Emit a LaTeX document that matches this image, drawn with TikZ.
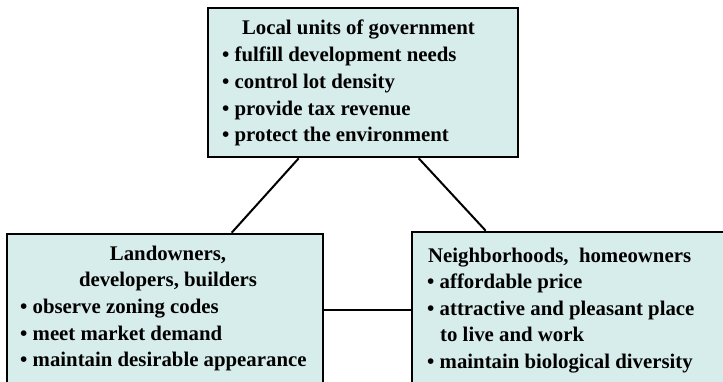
\documentclass[tikz,border=0pt]{standalone}
\usepackage{fontspec}
\setmainfont{Liberation Serif}
\definecolor{boxfill}{RGB}{214,237,235}
\tikzset{
  panel/.style={draw=black, line width=2.6pt, fill=boxfill, rectangle, inner sep=0pt},
  txt/.style={font=\fontsize{20.8}{26.8}\selectfont\bfseries, inner sep=0pt, anchor=base west},
  ttl/.style={font=\fontsize{20.8}{26.8}\selectfont\bfseries, inner sep=0pt, anchor=base},
  link/.style={draw=black, line width=2pt}
}
\begin{document}
\begin{tikzpicture}[x=1pt,y=-1pt]
\clip (0,0) rectangle (723,382);
% boxes
\node[panel, minimum width=310pt, minimum height=149pt] (top) at (363,82.5) {};
\node[panel, minimum width=316pt, minimum height=186pt] (left) at (165,327) {};
\node[panel, minimum width=328pt, minimum height=188pt] (right) at (576,326) {};
% connectors
\draw[link] ([xshift=92pt]top.south west) -- ([xshift=226pt]left.north west);
\draw[link] ([xshift=212pt]top.south west) -- ([xshift=75pt]right.north west);
\draw[link] ([yshift=17pt]left.east) -- ([yshift=16pt]right.west);
% top text
\node[ttl] (t0) at (358.5,35) {Local units of government};
\node[txt] (t1) at (222,62) {• fulfill development needs};
\node[txt] (t2) at (222,89) {• control lot density};
\node[txt] (t3) at (222,115.5) {• provide tax revenue};
\node[txt] (t4) at (222,142) {• protect the environment};
% left text
\node[ttl] (l0) at (168,261) {Landowners,};
\node[ttl] (l1) at (168,287) {developers, builders};
\node[txt] (l2) at (20,313.5) {• observe zoning codes};
\node[txt] (l3) at (20,340) {• meet market demand};
\node[txt] (l4) at (20,366.5) {• maintain desirable appearance};
% right text
\node[txt] (r0) at (428,262) {Neighborhoods,\ \ homeowners};
\node[txt] (r1) at (427,288.5) {• affordable price};
\node[txt] (r2) at (427,315) {• attractive and pleasant place};
\node[txt] (r3) at (440,341.5) {to live and work};
\node[txt] (r4) at (427,368) {• maintain biological diversity};
\end{tikzpicture}
\end{document}
